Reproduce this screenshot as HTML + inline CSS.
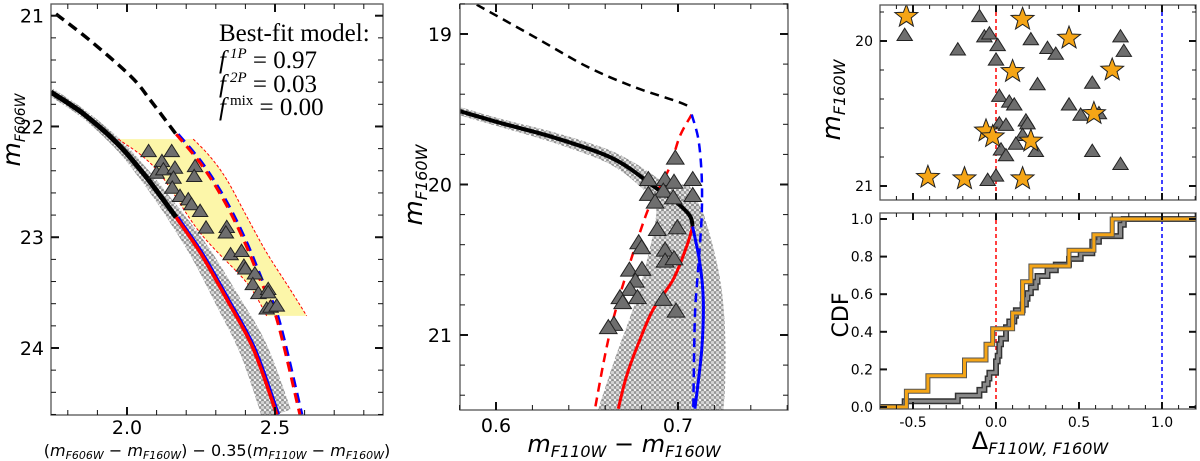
<!DOCTYPE html>
<html><head><meta charset="utf-8"><style>
html,body{margin:0;padding:0;background:#fff;}
svg{display:block;}
text{font-family:"DejaVu Sans","Liberation Sans",sans-serif;fill:#000;}
.serif{font-family:"Liberation Serif","DejaVu Serif",serif;}
</style></head><body>
<svg id="fig" width="1200" height="461" viewBox="0 0 1200 461" xmlns="http://www.w3.org/2000/svg">
<defs>
<pattern id="dots" width="5" height="5" patternUnits="userSpaceOnUse">
<circle cx="2.5" cy="2.5" r="2.1" fill="#d4d4d4" stroke="#777" stroke-width="0.7"/>
</pattern>
<clipPath id="c1"><rect x="51" y="4" width="332" height="411"/></clipPath>
<clipPath id="c2"><rect x="460" y="4" width="328" height="406"/></clipPath>
<clipPath id="c3"><rect x="880" y="5" width="316" height="195"/></clipPath>
<clipPath id="c4"><rect x="880" y="213" width="316" height="196"/></clipPath>
</defs>
</svg>
<script>
// ---------- Panel 1 data ----------
const p1TriX=[2.073,2.151,2.118,2.100,2.123,2.162,2.157,2.153,2.179,2.207,2.218,2.230,2.227,2.247,2.267,2.337,2.334,2.350,2.387,2.395,2.400,2.432,2.425,2.444,2.477,2.477,2.472,2.485,2.506];
const p1TriY=[22.225,22.225,22.315,22.42,22.39,22.375,22.465,22.555,22.63,22.66,22.705,22.36,22.45,22.765,22.915,22.91,22.96,23.156,23.126,23.26,23.285,23.33,23.426,23.507,23.47,23.5,23.646,23.63,23.62];
const p1DashBlackX=[1.760,1.878,2.014,2.081,2.166];
const p1DashBlackY=[20.985,21.23,21.55,21.77,22.07];
const p1DashColX=[2.166,2.25,2.328,2.395,2.449,2.506,2.584];
const p1DashColY=[22.07,22.34,22.67,23.03,23.38,23.74,24.6];
const p1SolidBlackX=[1.743,1.855,1.970,2.057,2.125,2.166];
const p1SolidBlackY=[21.69,21.89,22.16,22.43,22.67,22.82];
const p1SolidColX=[2.166,2.25,2.337,2.427,2.506];
const p1SolidColY=[22.82,23.15,23.56,24.01,24.6];
const p1BoxLeftX=[1.971,2.100,2.247,2.404,2.472];
const p1BoxLeftY=[22.114,22.39,22.96,23.41,23.71];
const p1BoxRightX=[2.224,2.280,2.337,2.404,2.472,2.551,2.607];
const p1BoxRightY=[22.114,22.27,22.48,22.81,23.14,23.47,23.71];
const p1XTicks=[2.0,2.5];
const p1YTicks=[21,22,23,24];
// ---------- Panel 2 data ----------
const p2TriX=[0.6985,0.6837,0.6929,0.6978,0.7081,0.6837,0.6919,0.6974,0.7081,0.6874,0.6886,0.6996,0.6784,0.6800,0.6929,0.6929,0.6978,0.6733,0.6802,0.6766,0.6736,0.6681,0.6696,0.6777,0.6919,0.6989,0.6648,0.6617];
const p2TriY=[19.825,19.967,19.967,19.985,19.967,20.066,20.044,20.089,20.073,20.117,20.299,20.288,20.387,20.42,20.436,20.509,20.493,20.569,20.564,20.642,20.697,20.752,20.785,20.752,20.763,20.841,20.929,20.951];
const p2DashBlackX=[0.5894,0.6205,0.6498,0.6755,0.6993,0.7075];
const p2DashBlackY=[18.805,19.015,19.215,19.35,19.447,19.49];
const p2DashRedX=[0.7075,0.701,0.6956,0.6883,0.6828,0.6736,0.6663,0.6608,0.6544];
const p2DashRedY=[19.535,19.68,19.88,20.055,20.19,20.52,20.81,21.08,21.49];
const p2DashBlueX=[0.7075,0.7112,0.713,0.713,0.7112,0.7093,0.7084];
const p2DashBlueY=[19.535,19.70,19.945,20.21,20.54,20.875,21.49];
const p2SolidBlackX=[0.5802,0.6022,0.6297,0.6571,0.6718,0.6864,0.6993,0.7066,0.708];
const p2SolidBlackY=[19.513,19.59,19.68,19.79,19.88,20.01,20.12,20.21,20.28];
const p2SolidRedX=[0.708,0.7048,0.6974,0.6864,0.6791,0.6718,0.6672];
const p2SolidRedY=[20.28,20.41,20.63,20.83,21.03,21.27,21.49];
const p2SolidBlueX=[0.708,0.712,0.7139,0.713,0.7093];
const p2SolidBlueY=[20.28,20.52,20.77,21.1,21.49];
const p2CloudLeftX=[0.686,0.688,0.683,0.676,0.667,0.660,0.656];
const p2CloudLeftY=[20.0,20.2,20.5,20.8,21.1,21.35,21.5];
const p2CloudRightX=[0.706,0.714,0.720,0.724,0.726,0.726,0.725];
const p2CloudRightY=[20.0,20.2,20.45,20.7,21.0,21.3,21.5];
const p2XTicks=[0.6,0.7];
const p2YTicks=[19,20,21];
// ---------- Panel 3 data ----------
const p3TriDelta=[-0.10,-0.55,-0.07,-0.04,0.01,-0.23,0.00,0.21,0.31,0.36,0.75,0.77,0.58,0.25,0.02,0.08,0.11,0.44,0.51,0.62,0.02,0.06,0.18,0.19,0.16,0.12,0.03,0.06,0.24,0.58,0.75,0.00,-0.05];
const p3TriMag=[19.83,19.96,19.97,19.95,20.03,20.06,20.13,19.99,20.05,20.09,19.97,20.07,20.29,20.30,20.38,20.42,20.44,20.44,20.51,20.50,20.57,20.58,20.55,20.57,20.65,20.71,20.75,20.79,20.76,20.76,20.85,20.93,20.96];
const p3StarDelta=[-0.54,0.16,0.44,0.10,0.70,0.59,-0.06,-0.02,0.21,-0.41,-0.19,0.16];
const p3StarMag=[19.83,19.85,19.98,20.21,20.20,20.50,20.62,20.66,20.69,20.94,20.95,20.95];
const p3XTicks=[-0.5,0.0,0.5,1.0];
const p3YTicks=[20,21];
const p4YTicks=[0.0,0.2,0.4,0.6,0.8,1.0];

const NS='http://www.w3.org/2000/svg';
const svg=document.getElementById('fig');
function mk(tag,attrs,parent){const e=document.createElementNS(NS,tag);for(const k in attrs)e.setAttribute(k,attrs[k]);(parent||svg).appendChild(e);return e;}
function lin(d0,d1,r0,r1){return v=>r0+(v-d0)*(r1-r0)/(d1-d0);}
const x1=lin(2.0,2.5,127,275), y1=lin(21,24,15.7,348);
const x2=lin(0.6,0.7,496,678), y2=lin(19,21,34,335);
const x3=lin(0,1,996,1162), y3=lin(20,21,41,186);
const y4=lin(0,1,407,219);
function P(xs,ys,sx,sy){return xs.map((v,i)=>[sx(v),sy(ys[i])]);}
function smoothD(p,start){let d=(start||'M')+p[0][0].toFixed(1)+','+p[0][1].toFixed(1);
  for(let i=0;i<p.length-1;i++){const a=p[Math.max(0,i-1)],b=p[i],c=p[i+1],e=p[Math.min(p.length-1,i+2)];
    const c1=[b[0]+(c[0]-a[0])/6,b[1]+(c[1]-a[1])/6],c2=[c[0]-(e[0]-b[0])/6,c[1]-(e[1]-b[1])/6];
    d+=' C'+c1[0].toFixed(1)+','+c1[1].toFixed(1)+' '+c2[0].toFixed(1)+','+c2[1].toFixed(1)+' '+c[0].toFixed(1)+','+c[1].toFixed(1);}
  return d;}
function line(xs,ys,sx,sy,st,w,dash,g,name){
  const e=mk('path',{d:smoothD(P(xs,ys,sx,sy)),fill:'none',stroke:st,'stroke-width':w,'stroke-linejoin':'round'},g);
  if(dash)e.setAttribute('stroke-dasharray',dash);
  
  
  return e;
}
function tri(cx,cy,s,g){
  const e=mk('polygon',{points:`${cx},${cy-s} ${cx-s*1.1},${cy+s*0.75} ${cx+s*1.1},${cy+s*0.75}`,fill:'#6e6e6e',stroke:'#222','stroke-width':1},g);
  
  
}
function star(cx,cy,R,g){
  let p=[];for(let i=0;i<10;i++){const r=i%2?R*0.42:R;const a=-Math.PI/2+i*Math.PI/5;p.push((cx+r*Math.cos(a)).toFixed(1)+','+(cy+r*Math.sin(a)).toFixed(1));}
  const e=mk('polygon',{points:p.join(' '),fill:'#f5a516',stroke:'#222','stroke-width':1},g);
  
  
}
function cloud(L,R,g){
  const d=smoothD(L)+' '+smoothD(R.slice().reverse(),'L')+' Z';
  const e=mk('path',{d,fill:'url(#dots)',stroke:'none'},g);
  
  
}
function bandEdges(p,hw){const L=[],R=[];
  for(let i=0;i<p.length;i++){const a=p[Math.max(0,i-1)],b=p[Math.min(p.length-1,i+1)];const dx=b[0]-a[0],dy=b[1]-a[1];const n=Math.hypot(dx,dy)||1;const nx=-dy/n,ny=dx/n;L.push([p[i][0]+nx*hw[i],p[i][1]+ny*hw[i]]);R.push([p[i][0]-nx*hw[i],p[i][1]-ny*hw[i]]);}
  return [L,R];}
function frame(x,y,w,h,name){const e=mk('rect',{x,y,width:w,height:h,fill:'none',stroke:'#555','stroke-width':1.3});}
function ticksX(vals,sx,y0,y1,len,minor){vals.forEach(v=>{const X=sx(v);mk('line',{x1:X,y1:y0,x2:X,y2:y0-len,stroke:'#111','stroke-width':minor?1:2});mk('line',{x1:X,y1:y1,x2:X,y2:y1+len,stroke:'#111','stroke-width':minor?1:2});});}
function ticksY(vals,sy,x0,x1,len,minor){vals.forEach(v=>{const Y=sy(v);mk('line',{x1:x0,y1:Y,x2:x0+len,y2:Y,stroke:'#111','stroke-width':minor?1:2});mk('line',{x1:x1,y1:Y,x2:x1-len,y2:Y,stroke:'#111','stroke-width':minor?1:2});});}
function range(a,b,s){const r=[];for(let v=a;v<=b+1e-9;v+=s)r.push(+v.toFixed(4));return r;}
function txt(x,y,s,size,anchor,name,extra){const e=mk('text',Object.assign({x,y,'font-size':size,'text-anchor':anchor||'middle'},extra||{}));e.innerHTML=s;return e;}

// ===== Panel 1 =====
const g1=mk('g',{'clip-path':'url(#c1)'});
{const cp=P(p1SolidBlackX.concat(p1SolidColX.slice(1)),p1SolidBlackY.concat(p1SolidColY.slice(1)),x1,y1);
 const [L,R]=bandEdges(cp,[4,4,5,6,7,8,10,12,14,15]);cloud(L,R,g1);}
const box=mk('path',{d:smoothD(P(p1BoxLeftX,p1BoxLeftY,x1,y1))+' '+smoothD(P(p1BoxRightX.slice().reverse(),p1BoxRightY.slice().reverse(),x1,y1),'L')+' Z',fill:'#fbf59a','fill-opacity':0.85,stroke:'none'},g1);


line(p1BoxLeftX,p1BoxLeftY,x1,y1,'#f00',1,'3,2',g1,'selection-edge-left');
line(p1BoxRightX,p1BoxRightY,x1,y1,'#f00',1,'3,2',g1,'selection-edge-right');
line(p1DashBlackX,p1DashBlackY,x1,y1,'#000',3.5,'10,6',g1,'rgb-dashed-black');
line(p1DashColX,p1DashColY,x=>x1(x)+2,y1,'#00f',3,'10,6',g1,'2p-dashed-blue');
line(p1DashColX,p1DashColY,x1,y1,'#f00',3,'10,6',g1,'1p-dashed-red');
line(p1SolidBlackX,p1SolidBlackY,x1,y1,'#000',5,null,g1,'fiducial-black');
line(p1SolidColX,p1SolidColY,x=>x1(x)+1.5,y1,'#00f',3.5,null,g1,'fiducial-blue');
line(p1SolidColX,p1SolidColY,x1,y1,'#f00',3.5,null,g1,'fiducial-red');
p1TriX.forEach((v,i)=>tri(x1(v),y1(p1TriY[i]),7,g1));
frame(51,4,332,411,'panel1-frame');
ticksX(range(1.8,2.8,0.1),x1,415,4,5,true);ticksX(p1XTicks,x1,415,4,8,false);
ticksY(range(21,24.6,0.2),y1,51,383,5,true);ticksY(p1YTicks,y1,51,383,8,false);
p1XTicks.forEach(v=>txt(x1(v),434,v.toFixed(1),19,'middle','x-tick-label'));
p1YTicks.forEach(v=>txt(44,y1(v)+7,v,19,'end','y-tick-label'));
txt(20,130,'<tspan font-style="italic" font-size="25">m</tspan><tspan font-style="italic" font-size="14" dy="5">F606W</tspan>',20,'middle','y-axis-title',{transform:'rotate(-90 20 130)'});
txt(217,456,'(<tspan font-style="italic">m</tspan><tspan font-style="italic" font-size="11" dy="3">F606W</tspan><tspan dy="-3"> − </tspan><tspan font-style="italic">m</tspan><tspan font-style="italic" font-size="11" dy="3">F160W</tspan><tspan dy="-3">) − 0.35(</tspan><tspan font-style="italic">m</tspan><tspan font-style="italic" font-size="11" dy="3">F110W</tspan><tspan dy="-3"> − </tspan><tspan font-style="italic">m</tspan><tspan font-style="italic" font-size="11" dy="3">F160W</tspan><tspan dy="-3">)</tspan>',16,'middle','x-axis-title');
txt(219,41,'Best-fit model:',25,'start','legend-title',{class:'serif'});
txt(219,68,'<tspan font-style="italic">f</tspan><tspan font-size="15" dx="4" dy="-10" font-style="italic">1P</tspan><tspan dy="10"> = 0.97</tspan>',25,'start','legend-f1p',{class:'serif'});
txt(219,92,'<tspan font-style="italic">f</tspan><tspan font-size="15" dx="4" dy="-10" font-style="italic">2P</tspan><tspan dy="10"> = 0.03</tspan>',25,'start','legend-f2p',{class:'serif'});
txt(219,115,'<tspan font-style="italic">f</tspan><tspan font-size="15" dx="4" dy="-10">mix</tspan><tspan dy="10"> = 0.00</tspan>',25,'start','legend-fmix',{class:'serif'});

// ===== Panel 2 =====
const g2=mk('g',{'clip-path':'url(#c2)'});
{const [L,R]=bandEdges(P(p2SolidBlackX,p2SolidBlackY,x2,y2),[4,4,5,6,7,9,11,13,14]);cloud(L,R,g2);}
cloud(P(p2CloudLeftX,p2CloudLeftY,x2,y2),P(p2CloudRightX,p2CloudRightY,x2,y2),g2);
line(p2DashBlackX,p2DashBlackY,x2,y2,'#000',2.5,'9,6',g2,'rgb-dashed-black');
line(p2DashRedX,p2DashRedY,x2,y2,'#f00',2.5,'9,6',g2,'1p-dashed-red');
line(p2DashBlueX,p2DashBlueY,x2,y2,'#00f',2.5,'9,6',g2,'2p-dashed-blue');
line(p2SolidBlackX,p2SolidBlackY,x2,y2,'#000',4,null,g2,'fiducial-black');
line(p2SolidRedX,p2SolidRedY,x2,y2,'#f00',3,null,g2,'fiducial-red');
line(p2SolidBlueX,p2SolidBlueY,x2,y2,'#00f',3,null,g2,'fiducial-blue');
p2TriX.forEach((v,i)=>tri(x2(v),y2(p2TriY[i]),8,g2));
frame(460,4,328,406,'panel2-frame');
ticksX(range(0.58,0.76,0.02),x2,410,4,5,true);ticksX(p2XTicks,x2,410,4,8,false);
ticksY(range(18.8,21.4,0.2),y2,460,788,5,true);ticksY(p2YTicks,y2,460,788,8,false);
p2XTicks.forEach(v=>txt(x2(v),432,v.toFixed(1),19,'middle','x-tick-label'));
p2YTicks.forEach(v=>txt(452,y2(v)+7,v,19,'end','y-tick-label'));
txt(422,185,'<tspan font-style="italic" font-size="26">m</tspan><tspan font-style="italic" font-size="16" dy="5">F160W</tspan>',20,'middle','y-axis-title',{transform:'rotate(-90 422 185)'});
txt(624,452,'<tspan font-style="italic">m</tspan><tspan font-style="italic" font-size="16" dy="5">F110W</tspan><tspan dy="-5"> − </tspan><tspan font-style="italic">m</tspan><tspan font-style="italic" font-size="16" dy="5">F160W</tspan>',24,'middle','x-axis-title');

// ===== Panel 3 top =====
const g3=mk('g',{'clip-path':'url(#c3)'});
mk('line',{x1:x3(0),y1:5,x2:x3(0),y2:200,stroke:'#f00','stroke-width':1.5,'stroke-dasharray':'4,3'},g3);
mk('line',{x1:x3(1),y1:5,x2:x3(1),y2:200,stroke:'#00f','stroke-width':1.5,'stroke-dasharray':'4,3'},g3);
p3TriDelta.forEach((v,i)=>tri(x3(v),y3(p3TriMag[i]),7,g3));
p3StarDelta.forEach((v,i)=>star(x3(v),y3(p3StarMag[i]),12,g3));
frame(880,5,316,195,'panel3-frame');
ticksX(range(-0.6,1.2,0.1),x3,200,5,4,true);ticksX(p3XTicks,x3,200,5,7,false);
ticksY(range(19.8,21.0,0.2),y3,880,1196,4,true);ticksY(p3YTicks,y3,880,1196,7,false);
p3YTicks.forEach(v=>txt(873,y3(v)+5,v,14,'end','y-tick-label'));
txt(840,100,'<tspan font-style="italic" font-size="26">m</tspan><tspan font-style="italic" font-size="16" dy="5">F160W</tspan>',20,'middle','y-axis-title',{transform:'rotate(-90 840 100)'});

// ===== Panel 3 bottom: CDF =====
const g4=mk('g',{'clip-path':'url(#c4)'});
mk('line',{x1:x3(0),y1:213,x2:x3(0),y2:409,stroke:'#f00','stroke-width':1.5,'stroke-dasharray':'4,3'},g4);
mk('line',{x1:x3(1),y1:213,x2:x3(1),y2:409,stroke:'#00f','stroke-width':1.5,'stroke-dasharray':'4,3'},g4);
function cdfPts(vals){const s=vals.slice().sort((a,b)=>a-b);const n=s.length;let p=[[x3(-0.8),y4(0)]];s.forEach((v,i)=>{p.push([x3(v),y4(i/n)]);p.push([x3(v),y4((i+1)/n)]);});p.push([x3(1.3),y4(1)]);return p.map(q=>q[0].toFixed(1)+','+q[1].toFixed(1)).join(' ');}
const c1o=mk('polyline',{points:cdfPts(p3TriDelta),fill:'none',stroke:'#333','stroke-width':6},g4);


const c1=mk('polyline',{points:cdfPts(p3TriDelta),fill:'none',stroke:'#8a8a8a','stroke-width':3},g4);


const c2o=mk('polyline',{points:cdfPts(p3StarDelta),fill:'none',stroke:'#555','stroke-width':5},g4);


const c2=mk('polyline',{points:cdfPts(p3StarDelta),fill:'none',stroke:'#f5a516','stroke-width':3},g4);


frame(880,213,316,196,'panel4-frame');
ticksX(range(-0.6,1.2,0.1),x3,409,213,4,true);ticksX(p3XTicks,x3,409,213,7,false);
ticksY(p4YTicks,y4,880,1196,7,false);
p3XTicks.forEach(v=>txt(x3(v),427,v.toFixed(1),14,'middle','x-tick-label'));
p4YTicks.forEach(v=>txt(873,y4(v)+5,v.toFixed(1),14,'end','y-tick-label'));
txt(848,315,'CDF',22,'middle','y-axis-title',{transform:'rotate(-90 848 315)'});
txt(1040,449,'Δ<tspan font-style="italic" font-size="16" dy="5">F110W, F160W</tspan>',24,'middle','x-axis-title');
</script>
</body></html>
